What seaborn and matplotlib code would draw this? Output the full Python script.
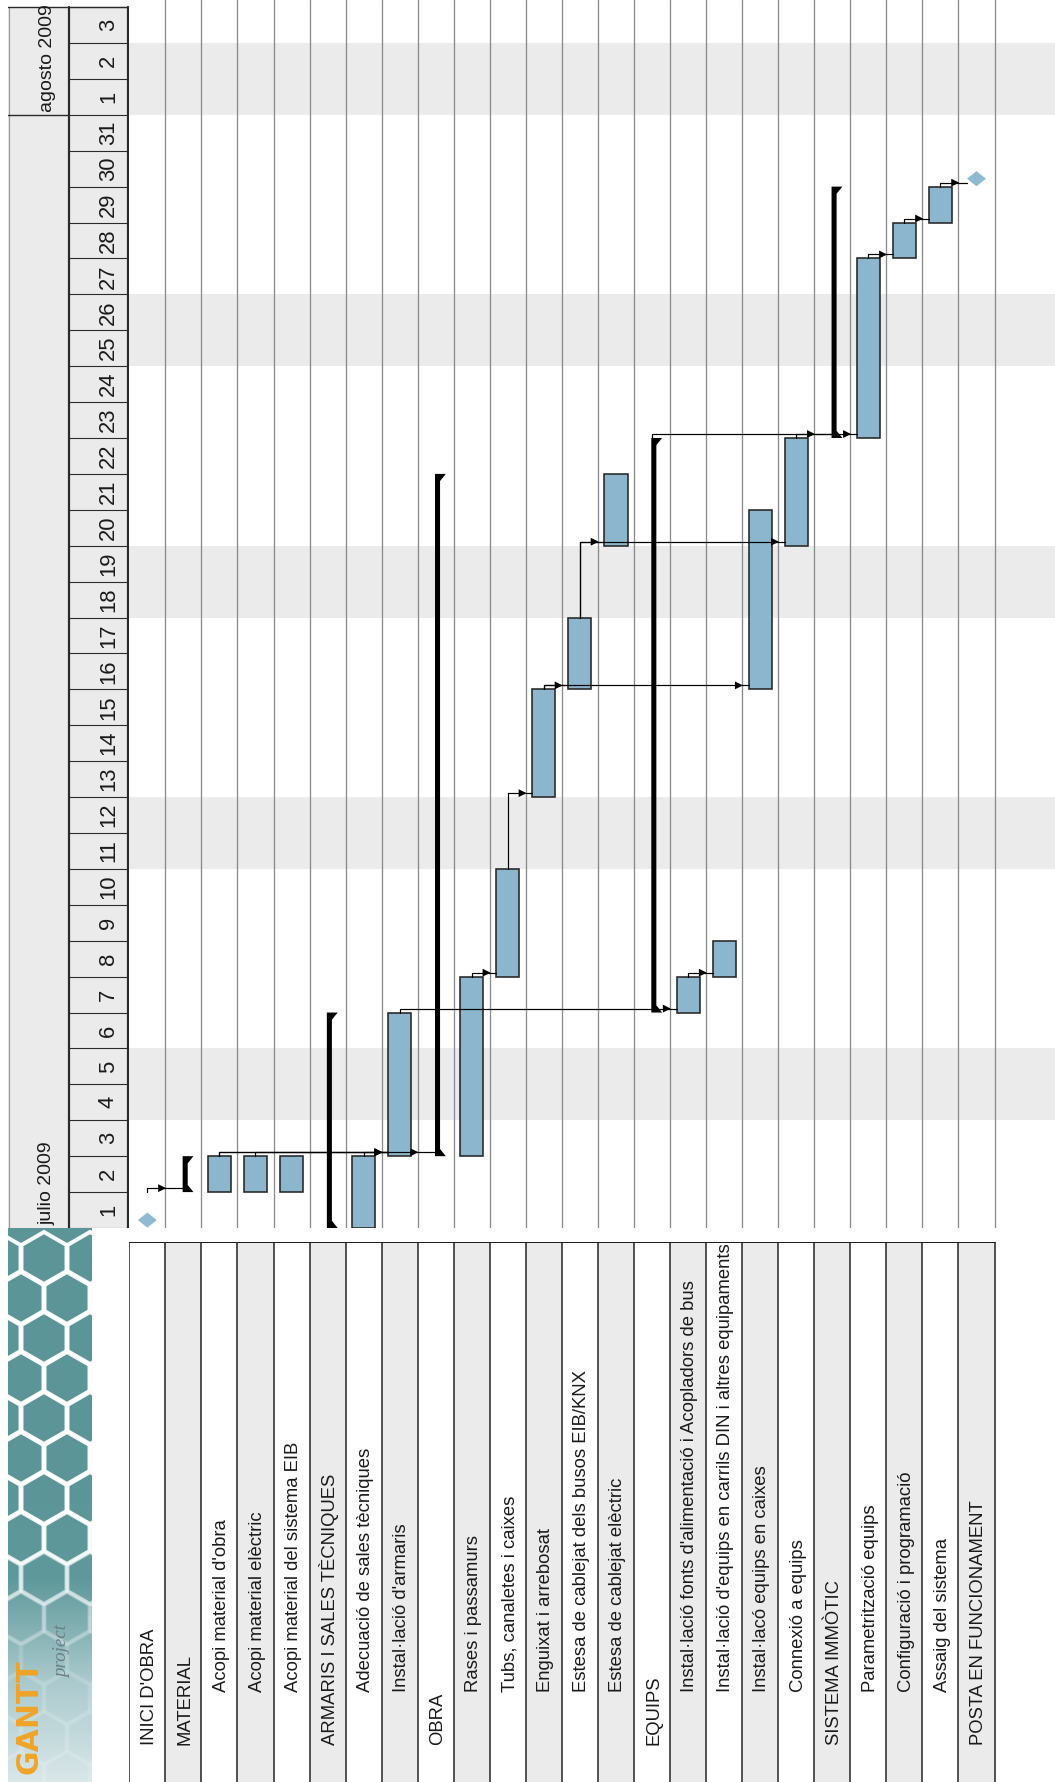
import matplotlib
matplotlib.use('Agg')
import matplotlib.pyplot as plt
from matplotlib import font_manager
from matplotlib.patches import Polygon, Rectangle, RegularPolygon
from matplotlib.colors import LinearSegmentedColormap
import numpy as np
import pandas as pd
import seaborn as sns

# --- dades del diagrama ---
tasks = ["INICI D'OBRA", "MATERIAL", "Acopi material d'obra", "Acopi material elèctric",
         "Acopi material del sistema EIB", "ARMARIS I SALES TÈCNIQUES",
         "Adecuació de sales tècniques", "Instal·lació d'armaris", "OBRA",
         "Rases i passamurs", "Tubs, canaletes i caixes", "Enguixat i arrebosat",
         "Estesa de cablejat dels busos EIB/KNX", "Estesa de cablejat elèctric", "EQUIPS",
         "Instal·lació fonts d'alimentació i Acopladors de bus",
         "Instal·lació d'equips en carrils DIN i altres equipaments",
         "Instal·lacó equips en caixes", "Connexió a equips", "SISTEMA IMMÒTIC",
         "Parametrització equips", "Configuració i programació", "Assaig del sistema",
         "POSTA EN FUNCIONAMENT"]
# m = fita, s = resum, t = tasca
kind = ['m', 's', 't', 't', 't', 's', 't', 't', 's', 't', 't', 't',
        't', 't', 's', 't', 't', 't', 't', 's', 't', 't', 't', 'm']
indent = [0, 0, 1, 1, 1, 0, 1, 1, 0, 1, 1, 1, 1, 1, 0, 1, 1, 1, 1, 0, 1, 1, 1, 0]
start = ['2009-07-01', '2009-07-02', '2009-07-02', '2009-07-02', '2009-07-02', '2009-07-01',
         '2009-07-01', '2009-07-03', '2009-07-03', '2009-07-03', '2009-07-08', '2009-07-13',
         '2009-07-16', '2009-07-20', '2009-07-07', '2009-07-07', '2009-07-08', '2009-07-16',
         '2009-07-20', '2009-07-23', '2009-07-23', '2009-07-28', '2009-07-29', '2009-07-30']
finish = ['2009-07-01', '2009-07-02', '2009-07-02', '2009-07-02', '2009-07-02', '2009-07-06',
          '2009-07-02', '2009-07-06', '2009-07-21', '2009-07-07', '2009-07-10', '2009-07-15',
          '2009-07-17', '2009-07-21', '2009-07-22', '2009-07-07', '2009-07-08', '2009-07-20',
          '2009-07-22', '2009-07-29', '2009-07-27', '2009-07-28', '2009-07-29', '2009-07-30']
dep_from = [0, 2, 3, 6, 2, 9, 10, 11, 11, 12, 12, 7, 15, 14, 18, 20, 21, 22]
dep_to = [1, 7, 7, 7, 8, 10, 11, 12, 17, 13, 18, 15, 16, 19, 20, 21, 22, 23]
weekends = ['2009-07-04', '2009-07-11', '2009-07-18', '2009-07-25', '2009-08-01']
months = ['julio 2009', 'agosto 2009']
month_first = ['2009-07-01', '2009-08-01']
days = pd.date_range('2009-07-01', '2009-08-03')

# --- preparar ---
t0 = pd.Timestamp('2009-07-01')
df = pd.DataFrame({'task': tasks, 'kind': kind, 'indent': indent,
                   'start': pd.to_datetime(start), 'finish': pd.to_datetime(finish)})
df['row'] = np.arange(len(df))
df['y0'] = (df['start'] - t0).dt.days
df['y1'] = (df['finish'] - t0).dt.days + 1
df.loc[df['kind'] == 'm', 'y1'] = df['y0']
n = len(df)
ndays = len(days)

sns.set_theme(style='white')
names = {f.name for f in font_manager.fontManager.ttflist}
narrow = 'Liberation Sans Narrow' if 'Liberation Sans Narrow' in names else 'Liberation Sans'
plt.rcParams['font.family'] = [narrow, 'DejaVu Sans']

W, H = 1055, 1782
ROW0, ROW_W, DAY_W, Y0 = 129.3, 36.05, 35.91, 1228
BLUE = '#8cb6ce'
SHADE = '#ebebeb'
PT = 0.72  # punts per pixel


def rect(x0, y0, x1, y1):
    return [x0 / W, 1 - y1 / H, (x1 - x0) / W, (y1 - y0) / H]


fig = plt.figure(figsize=(W / 100, H / 100), dpi=100, facecolor='white')

# --- 1. diagrama ---
ax = fig.add_axes(rect(ROW0, 0, W, Y0))
ax.set_xlim(0, (W - ROW0) / ROW_W)
ax.set_ylim(0, Y0 / DAY_W)
ax.axis('off')

for w in pd.to_datetime(weekends):
    d = (w - t0).days
    ax.axhspan(d, d + 2, color=SHADE, lw=0, zorder=0)
for k in range(1, n + 1):
    ax.axvline(k, color='#8a8a8a', lw=1.3 * PT, zorder=1)

bars = df[df['kind'] == 't']
ax.bar(bars['row'] + 0.5, bars['y1'] - bars['y0'], bottom=bars['y0'], width=0.64,
       color=BLUE, edgecolor='#262626', linewidth=1.6 * PT, zorder=3)

for _, r in df[df['kind'] == 's'].iterrows():
    x, s, e = r['row'], r['y0'], r['y1']
    ax.add_patch(Polygon([(x + 0.48, s), (x + 0.78, s), (x + 0.62, s + 0.2),
                          (x + 0.62, e - 0.2), (x + 0.78, e), (x + 0.48, e)],
                         closed=True, color='black', lw=0, zorder=3))

ms = df[df['kind'] == 'm']
diamond = [(-1, 0), (0, 0.8), (1, 0), (0, -0.8)]
sns.scatterplot(x=ms['row'] + 0.5, y=ms['y0'] + 0.22, marker=diamond, s=185, color='#8fbad3',
                edgecolor='none', ax=ax, zorder=4, legend=False)

target = {'t': 0.18, 's': 0.48, 'm': 0.23}
for p, q in zip(dep_from, dep_to):
    pe = df.loc[p, 'y1'] if df.loc[p, 'kind'] != 'm' else df.loc[p, 'y0'] + 1
    lvl = df.loc[q, 'y0'] + 0.11
    tx = q + target[df.loc[q, 'kind']]
    ax.plot([p + 0.5, p + 0.5, tx], [pe, lvl, lvl], color='black', lw=1.2 * PT, zorder=5)
    ax.add_patch(Polygon([(q + 0.02, lvl), (q - 0.2, lvl + 0.11), (q - 0.2, lvl - 0.11)],
                         closed=True, color='black', lw=0, zorder=6))

# --- 2. capçalera de dates ---
hd = fig.add_axes(rect(8, 0, ROW0, Y0))
hd.set_xlim(8, ROW0)
hd.set_ylim(0, Y0 / DAY_W)
hd.axis('off')
hd.add_patch(Rectangle((8, 0), ROW0 - 8, ndays, fc='#ebebeb', ec='none', zorder=0))
for k in range(ndays + 1):
    hd.plot([69, ROW0], [k, k], color='#2a2a2a', lw=1.1 * PT, zorder=2)
hd.plot([69, 69], [0, ndays], color='#2a2a2a', lw=2.2 * PT, zorder=2)
hd.plot([ROW0 - 1.2, ROW0 - 1.2], [0, ndays], color='#2a2a2a', lw=2.2 * PT, zorder=2)
hd.plot([8.6, 8.6], [0, ndays], color='#9a9a9a', lw=1.2 * PT, zorder=2)
hd.plot([8, ROW0], [ndays, ndays], color='#2a2a2a', lw=1.4 * PT, zorder=2)
for i, d in enumerate(days):
    hd.text(108.5, i + 0.5, str(d.day), rotation=90, ha='center', va='center',
            rotation_mode='anchor', fontsize=22 * PT, color='#1a1a1a')
for m, f in zip(months, pd.to_datetime(month_first)):
    d = (f - t0).days
    if d > 0:
        hd.plot([8, 69], [d, d], color='#2a2a2a', lw=1.4 * PT, zorder=2)
    hd.text(47, d + 0.08, m, rotation=90, ha='left', va='center', rotation_mode='anchor',
            fontsize=19.5 * PT, color='#1a1a1a')

# --- 3. taula de tasques ---
tb = fig.add_axes(rect(ROW0, 1242, W, H))
tb.set_xlim(0, (W - ROW0) / ROW_W)
tb.set_ylim(H - 1242, 0)
tb.axis('off')
for i in range(n):
    if i % 2:
        tb.add_patch(Rectangle((i, 0), 1, H - 1242, fc=SHADE, ec='none', zorder=0))
for k in range(n + 1):
    tb.plot([k, k], [0, H - 1242], color='#1e1e1e', lw=1.5 * PT, zorder=2)
tb.plot([0, n], [0, 0], color='#1e1e1e', lw=2.0 * PT, zorder=2)
for _, r in df.iterrows():
    ystart = 503 if r['indent'] == 0 else 450
    tb.text(r['row'] + 0.55, ystart, r['task'], rotation=90, ha='left', va='center',
            rotation_mode='anchor', fontsize=18.5 * PT, color='#1a1a1a', zorder=3)

# --- 4. logotip ---
lg = fig.add_axes(rect(8, Y0, 92, H))
lg.set_xlim(0, 84)
lg.set_ylim(H - Y0, 0)
lg.axis('off')
cmap = LinearSegmentedColormap.from_list('gp', ['#5b9597', '#5f999b', '#a9c9cc', '#d9e7e9'])
ramp = np.clip((np.linspace(0, 1, 400) - 0.45) / 0.55, 0, 1)[:, None]
lg.imshow(ramp, cmap=cmap, extent=(0, 84, H - Y0, 0), aspect='auto', zorder=0)
for j in range(14):
    for c in range(3):
        cx = c * 46 + (j % 2) * 23 - 10
        cy = j * 40 + 30
        a = float(np.clip((430 - cy) / 140, 0.1, 0.95))
        lg.add_patch(RegularPolygon((cx, cy), 6, radius=26, fc='none', ec='white',
                                    lw=4 * PT, alpha=a, zorder=1))
lg.text(21, 546, 'GANTT', rotation=90, ha='left', va='center', rotation_mode='anchor',
        fontsize=30 * PT, fontweight='bold', color='#f0a428', family='DejaVu Sans', zorder=3)
lg.text(55, 450, 'project', rotation=90, ha='left', va='center', rotation_mode='anchor',
        fontsize=19 * PT, style='italic', color='#6d7f86', family='Liberation Serif', zorder=3)

fig.savefig('out.png', dpi=100, facecolor='white')
